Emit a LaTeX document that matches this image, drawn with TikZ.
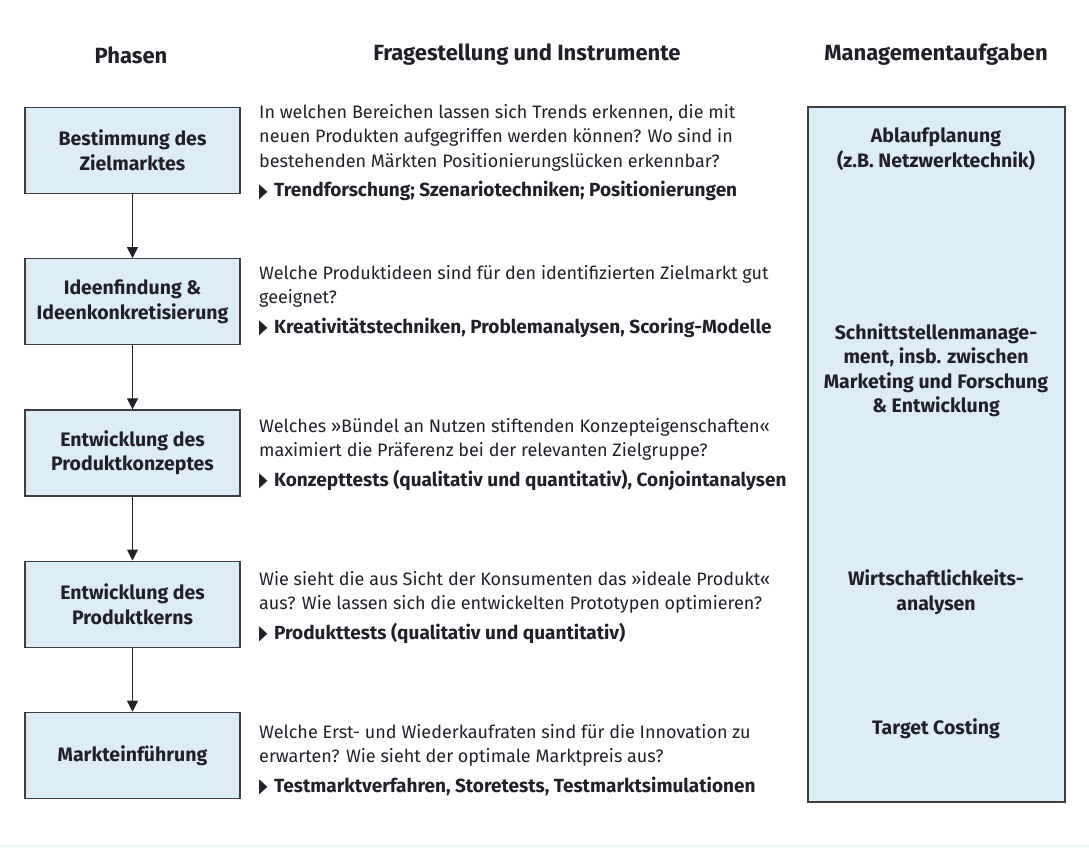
\documentclass[tikz,border=0pt]{standalone}
\usepackage{fontspec}
\setmainfont{Fira Sans}
\newfontfamily\symfont{DejaVu Sans}
\usetikzlibrary{arrows.meta, positioning}
\definecolor{boxbg}{RGB}{220, 237, 248}
\definecolor{ink}{RGB}{35, 31, 40}
\definecolor{rahmen}{RGB}{62, 62, 62}
\definecolor{stripbg}{RGB}{234, 247, 249}
\newcommand{\pfeil}{{\symfont\fontsize{20}{20}\selectfont\raisebox{-0.5pt}{\scalebox{0.55}[1]{▶}}}\hspace{6.5pt}}
\newcommand{\instr}[1]{{\fontsize{19}{24.5}\selectfont\pfeil\textbf{#1}}}

\begin{document}
\begin{tikzpicture}[
    x=1pt, y=-1pt,
    every node/.style={text=ink},
    phase/.style={draw=rahmen, line width=1.2pt, fill=boxbg, minimum width=215pt,
      minimum height=86pt, align=center, inner sep=2pt,
      font=\fontsize{19.5}{24.5}\selectfont\bfseries},
    frage/.style={anchor=north west, align=left, inner sep=0pt,
      font=\fontsize{18}{24.5}\selectfont},
    kopf/.style={font=\fontsize{22}{24}\selectfont\bfseries},
    mgmt/.style={align=center, inner sep=0pt, font=\fontsize{19.5}{24.5}\selectfont\bfseries},
    fluss/.style={draw=ink, line width=1pt, -{Triangle[length=11pt, width=11pt]}},
    node distance=64pt,
  ]
  \useasboundingbox (0,0) rectangle (1089,847);
  \fill[stripbg] (0,844.5) rectangle (1089,847);

  % column heads
  \node[kopf] (hphasen) at (131,55) {Phasen};
  \node[kopf] (hfragen) at (527,55) {Fragestellung und Instrumente};
  \node[kopf] (hmgmt) at (936,55) {Managementaufgaben};

  % phases
  \node[phase] (p1) at (132.5,150.5) {Bestimmung des\\Zielmarktes};
  \node[phase, below=of p1] (p2) {Ideenfindung \&\\Ideenkonkretisierung};
  \node[phase, below=of p2] (p3) {Entwicklung des\\Produktkonzeptes};
  \node[phase, below=of p3] (p4) {Entwicklung des\\Produktkerns};
  \node[phase, below=of p4] (p5) {Markteinführung};

  \draw[fluss] (p1) -- (p2);
  \draw[fluss] (p2) -- (p3);
  \draw[fluss] (p3) -- (p4);
  \draw[fluss] (p4) -- (p5);

  % questions and instruments
  \node[frage] (q1) at (259,104) {In welchen Bereichen lassen sich Trends erkennen, die mit\\
    neuen Produkten aufgegriffen werden können? Wo sind in\\
    bestehenden Märkten Positionierungslücken erkennbar?\\[5pt]
    \instr{Trendforschung; Szenariotechniken; Positionierungen}};
  \node[frage] (q2) at (259,265) {Welche Produktideen sind für den identifizierten Zielmarkt gut\\
    geeignet?\\[5pt]
    \instr{Kreativitätstechniken, Problemanalysen, Scoring-Modelle}};
  \node[frage] (q3) at (259,418) {Welches »Bündel an Nutzen stiftenden Konzepteigenschaften«\\
    maximiert die Präferenz bei der relevanten Zielgruppe?\\[5pt]
    \instr{Konzepttests (qualitativ und quantitativ), Conjointanalysen}};
  \node[frage] (q4) at (259,571) {Wie sieht die aus Sicht der Konsumenten das »ideale Produkt«\\
    aus? Wie lassen sich die entwickelten Prototypen optimieren?\\[5pt]
    \instr{Produkttests (qualitativ und quantitativ)}};
  \node[frage] (q5) at (259,724) {Welche Erst- und Wiederkaufraten sind für die Innovation zu\\
    erwarten? Wie sieht der optimale Marktpreis aus?\\[5pt]
    \instr{Testmarktverfahren, Storetests, Testmarktsimulationen}};

  % management tasks
  \node[draw=rahmen, line width=1.2pt, fill=boxbg, minimum width=257pt,
    minimum height=695pt, inner sep=0pt] (mbox) at (936.5,454.5) {};
  \node[mgmt] (m1) at (936,149) {Ablaufplanung\\(z.B. Netzwerktechnik)};
  \node[mgmt] (m2) at (936,370) {Schnittstellenmanage-\\ment, insb. zwischen\\Marketing und Forschung\\\& Entwicklung};
  \node[mgmt] (m3) at (936,592) {Wirtschaftlichkeits-\\analysen};
  \node[mgmt] (m4) at (936,729) {Target Costing};
\end{tikzpicture}
\end{document}
